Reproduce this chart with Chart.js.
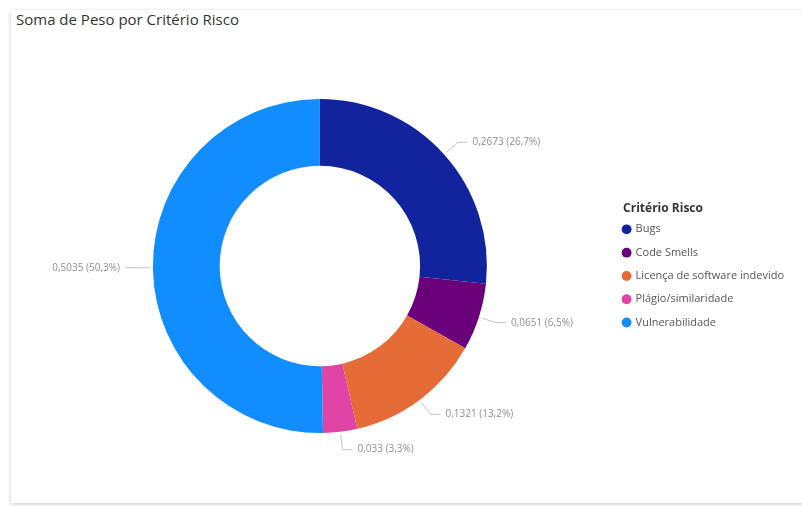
<!DOCTYPE html>
<html>
<head>
<meta charset="utf-8">
<script src="https://cdn.jsdelivr.net/npm/chart.js@4"></script>
<style>
  html, body { margin: 0; padding: 0; background: #fff; overflow: hidden; }
  #card {
    position: absolute; left: 11px; top: 10px; width: 800px; height: 493px;
    background: #fff; box-shadow: 0 1px 4px rgba(0, 0, 0, 0.22);
  }
  #title {
    position: absolute; left: 16px; top: 9px;
    font: 15px 'Open Sans', sans-serif; color: #333;
  }
  #pieChart { position: absolute; left: 0; top: 0; }
</style>
</head>
<body>
<div id="card"></div>
<div id="title">Soma de Peso por Critério Risco</div>
<canvas id="pieChart" width="802" height="506"></canvas>
<script>
// Soma de Peso per risk criterion
const categories = ['Bugs', 'Code Smells', 'Licença de software indevido', 'Plágio/similaridade', 'Vulnerabilidade'];
const pesoValues = [0.2673, 0.0651, 0.1321, 0.033, 0.5035];
const sliceColors = ['#12239E', '#6B007B', '#E66C37', '#E044A7', '#118DFF'];
const legendHeading = 'Critério Risco';

Chart.defaults.font.family = "'Open Sans', sans-serif";

function formatValue(v) {
    return String(v).replace('.', ',');
}

// value + percentage labels outside each slice, with leader lines
const outsideLabels = {
    id: 'outsideLabels',
    afterDatasetsDraw(chart) {
        const ctx = chart.ctx;
        const meta = chart.getDatasetMeta(0);
        const data = chart.data.datasets[0].data;
        const total = data.reduce((a, b) => a + b, 0);

        ctx.save();
        ctx.font = "10px 'Open Sans', sans-serif";
        ctx.textBaseline = 'middle';
        ctx.lineWidth = 1;

        meta.data.forEach((arc, i) => {
            const { x, y, startAngle, endAngle, outerRadius } =
                arc.getProps(['x', 'y', 'startAngle', 'endAngle', 'outerRadius'], true);
            const mid = (startAngle + endAngle) / 2;
            const cos = Math.cos(mid);
            const sin = Math.sin(mid);
            const x0 = x + cos * (outerRadius + 3);
            const y0 = y + sin * (outerRadius + 3);
            const x1 = x + cos * (outerRadius + 18);
            const y1 = y + sin * (outerRadius + 18);
            const right = cos >= 0;
            const x2 = x1 + (right ? 10 : -10);

            ctx.strokeStyle = '#c4c4c4';
            ctx.beginPath();
            ctx.moveTo(x0, y0);
            ctx.lineTo(x1, y1);
            ctx.lineTo(x2, y1);
            ctx.stroke();

            const pct = (data[i] / total * 100).toFixed(1).replace('.', ',');
            ctx.fillStyle = '#8e8e8e';
            ctx.textAlign = right ? 'left' : 'right';
            ctx.fillText(formatValue(data[i]) + ' (' + pct + '%)', x2 + (right ? 5 : -5), y1);
        });
        ctx.restore();
    }
};

// legend heading drawn flush with the legend markers
const legendTitle = {
    id: 'legendTitle',
    afterDraw(chart) {
        const box = chart.legend.legendHitBoxes[0];
        const ctx = chart.ctx;
        ctx.save();
        ctx.font = "bold 12px 'Open Sans', sans-serif";
        ctx.fillStyle = '#333';
        ctx.textAlign = 'left';
        ctx.textBaseline = 'middle';
        ctx.fillText(legendHeading, box.left, box.top + box.height / 2 - 21);
        ctx.restore();
    }
};

new Chart(document.getElementById('pieChart'), {
    type: 'doughnut',
    data: {
        labels: categories,
        datasets: [{
            data: pesoValues,
            backgroundColor: sliceColors,
            borderWidth: 0
        }]
    },
    options: {
        responsive: false,
        animation: false,
        cutout: '60%',
        layout: { padding: { top: 99, bottom: 73, left: 29, right: 8 } },
        plugins: {
            legend: {
                position: 'right',
                // keeps room above the items for the heading
                title: {
                    display: true,
                    text: '',
                    font: { size: 12, weight: 'bold' },
                    padding: { top: 0, bottom: 5.5 }
                },
                labels: {
                    usePointStyle: true,
                    pointStyle: 'circle',
                    boxWidth: 7,
                    boxHeight: 7,
                    padding: 12.3,
                    color: '#555',
                    font: { size: 11 }
                }
            },
            tooltip: { enabled: false }
        }
    },
    plugins: [outsideLabels, legendTitle]
});
</script>
</body>
</html>
